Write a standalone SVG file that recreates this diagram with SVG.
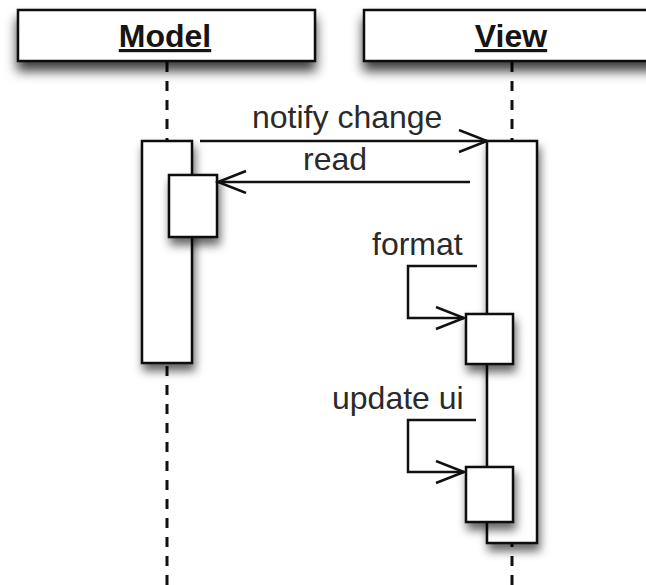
<svg xmlns="http://www.w3.org/2000/svg" width="646" height="585" viewBox="0 0 646 585">
  <defs>
    <filter id="shadow" x="-40%" y="-40%" width="180%" height="180%">
      <feDropShadow dx="2" dy="7" stdDeviation="5" flood-color="#000" flood-opacity="0.6"/>
    </filter>
    <filter id="hshadow" x="-10%" y="-40%" width="120%" height="200%">
      <feDropShadow dx="0" dy="9" stdDeviation="6" flood-color="#000" flood-opacity="0.75"/>
    </filter>
    <marker id="open" markerUnits="userSpaceOnUse" markerWidth="34" markerHeight="28" refX="30" refY="12" orient="auto">
      <path d="M2,1 L30,12 L2,23" fill="none" stroke="#111" stroke-width="2.5"/>
    </marker>
    <style>
      .head { fill: #fff; stroke: #111; stroke-width: 2.5; filter: url(#hshadow); }
      .act { fill: #fff; stroke: #111; stroke-width: 2.5; filter: url(#shadow); }
      .life { stroke: #111; stroke-width: 3; stroke-dasharray: 10 9; fill: none; }
      .title { font-family: "Liberation Sans", Arial, sans-serif; font-weight: bold; font-size: 32px; text-anchor: middle; text-decoration: underline; fill: #151515; }
      .label { font-family: "Liberation Sans", Arial, sans-serif; font-size: 32px; fill: #2a2a2a; }
      .msg { fill: none; stroke: #111; stroke-width: 2.5; marker-end: url(#open); }
    </style>
  </defs>
  <rect width="646" height="585" fill="#fff"/>

  <g id="model">
    <line class="life" x1="167" y1="62" x2="167" y2="585"/>
    <rect class="head" x="18" y="10" width="297" height="51"/>
    <text class="title" x="165" y="47">Model</text>
    <rect class="act" x="142" y="141" width="50" height="222"/>
    <rect class="act" x="169" y="175" width="48" height="62"/>
  </g>

  <g id="view">
    <line class="life" x1="512" y1="62" x2="512" y2="585"/>
    <rect class="head" x="364" y="10" width="300" height="51"/>
    <text class="title" x="511" y="47">View</text>
    <rect class="act" x="487" y="141" width="50" height="402"/>
    <rect class="act" x="466" y="314" width="47" height="50"/>
    <rect class="act" x="466" y="467" width="47" height="55"/>
  </g>

  <g id="connectors">
    <line class="msg" x1="200" y1="141" x2="487" y2="141"/>
    <text class="label" x="252" y="128">notify change</text>
    <line class="msg" x1="470" y1="182" x2="218" y2="182"/>
    <text class="label" x="303" y="170">read</text>
    <polyline class="msg" points="477,266 408,266 408,318 464,318"/>
    <text class="label" x="372" y="255">format</text>
    <polyline class="msg" points="476,420 408,420 408,472 464,472"/>
    <text class="label" x="332" y="409">update ui</text>
  </g>
</svg>
